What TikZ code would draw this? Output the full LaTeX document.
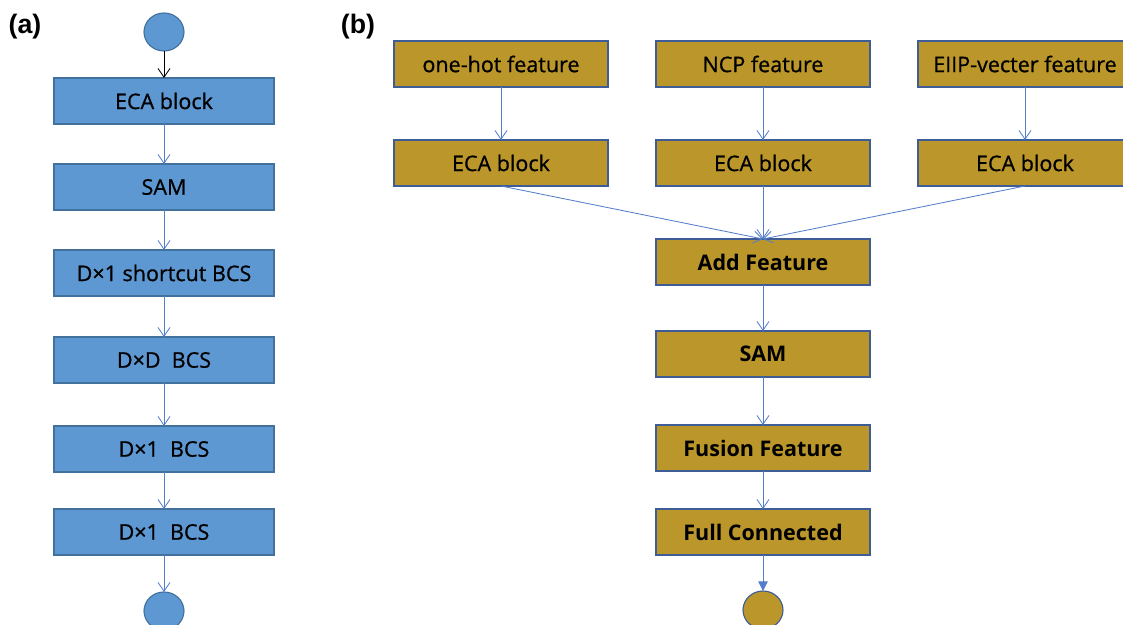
\documentclass[tikz,border=0pt]{standalone}
\usepackage{fontspec}
\setmainfont{Open Sans}
\newfontfamily\medfont{Open Sans}[FakeBold=0.8]
\newfontfamily\labfont{Liberation Sans}
\usepackage{tikz}
\usetikzlibrary{arrows.meta,positioning,shapes.geometric}

\definecolor{blockblue}{RGB}{94,152,211}
\definecolor{edgeblue}{RGB}{65,113,156}
\definecolor{lineblue}{RGB}{84,126,204}
\definecolor{blockgold}{RGB}{187,150,42}
\definecolor{edgegold}{RGB}{62,92,150}

\begin{document}
\begin{tikzpicture}[
    auto,
    node distance=1cm,
    >={Straight Barb[length=2.2mm,width=3mm]},
    font=\medfont\fontsize{15.3}{18}\selectfont,
    blockA/.style={
		rectangle,
		draw=edgeblue,
		line width=0.8pt,
		fill=blockblue,
		text centered,
		minimum width=5.5cm,
		minimum height=1.15cm,
		inner sep=0pt,
		outer sep=0pt
	},
	blockB/.style={
		blockA,
		draw=edgegold,
		fill=blockgold,
		minimum width=5.35cm
	},
	heavy/.style={
		font=\normalfont\fontsize{15.3}{18}\selectfont\bfseries
	},
	endpt/.style={
		ellipse,
		draw=edgeblue,
		line width=0.8pt,
		fill=blockblue,
		minimum width=1.0cm,
		minimum height=0.95cm,
		inner sep=0pt,
		outer sep=0pt
	},
	flow/.style={
		draw=lineblue,
		line width=0.6pt,
		->
	},
	panel/.style={
		font=\labfont\fontsize{19}{22}\selectfont\bfseries
	}
  ]
  \useasboundingbox (0,0) rectangle (28.075,-15.625);

  % panel labels
  \node [panel] (labA) at (0.625,-0.675) {(a)};
  \node [panel] (labB) at (8.95,-0.675) {(b)};

  % (a) the single branch
  \node [endpt] (startA) at (4.1,-0.8) {};
  \node [blockA, below=0.675cm of startA] (ecaA) {ECA block};
  \node [blockA, below=1.0cm of ecaA] (samA) {SAM};
  \node [blockA, below=1.0cm of samA] (shortA) {D×1 shortcut BCS};
  \node [blockA, below=1.025cm of shortA] (ddA) {D×D~~BCS};
  \node [blockA, below=1.075cm of ddA] (dxA) {D×1~~BCS};
  \node [blockA, below=0.925cm of dxA] (dxB) {D×1~~BCS};
  \node [endpt, below=0.925cm of dxB] (endA) {};

  \draw [->, black, line width=0.6pt] (startA) -- (ecaA);
  \draw [flow] (ecaA) -- (samA);
  \draw [flow] (samA) -- (shortA);
  \draw [flow] (shortA) -- (ddA);
  \draw [flow] (ddA) -- (dxA);
  \draw [flow] (dxA) -- (dxB);
  \draw [flow] (dxB) -- (endA);

  % (b) three inputs, then the fused branch
  \node [blockB] (ncp) at (19.075,-1.6) {NCP feature};
  \node [blockB, left=1.2cm of ncp] (onehot) {one-hot feature};
  \node [blockB, right=1.2cm of ncp] (eiip) {EIIP-vecter feature};

  \node [blockB, below=1.325cm of onehot] (eca1) {ECA block};
  \node [blockB, below=1.325cm of ncp] (eca2) {ECA block};
  \node [blockB, below=1.325cm of eiip] (eca3) {ECA block};

  \node [blockB, heavy, below=1.325cm of eca2] (addf) {Add Feature};
  \node [blockB, heavy, below=1.15cm of addf] (samB) {SAM};
  \node [blockB, heavy, below=1.2cm of samB] (fusion) {Fusion Feature};
  \node [blockB, heavy, below=0.95cm of fusion] (fullc) {Full Connected};
  \node [endpt, draw=edgegold, fill=blockgold, below=0.9cm of fullc] (endB) {};

  \draw [flow] (onehot) -- (eca1);
  \draw [flow] (ncp) -- (eca2);
  \draw [flow] (eiip) -- (eca3);
  \draw [flow] (eca1.south) -- (addf.north);
  \draw [flow] (eca2.south) -- (addf.north);
  \draw [flow] (eca3.south) -- (addf.north);
  \draw [flow] (addf) -- (samB);
  \draw [flow] (samB) -- (fusion);
  \draw [flow] (fusion) -- (fullc);
  \draw [draw=lineblue, line width=0.6pt, -{Triangle[length=2.4mm,width=2.4mm]}] (fullc) -- (endB);

\end{tikzpicture}
\end{document}
